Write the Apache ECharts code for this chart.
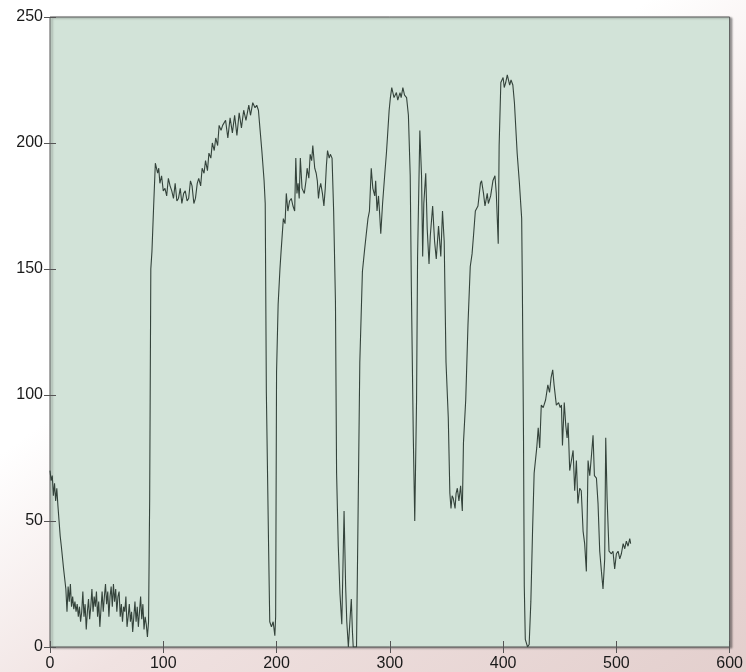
<!DOCTYPE html>
<html>
<head>
<meta charset="utf-8">
<script src="https://cdn.jsdelivr.net/npm/echarts@6/dist/echarts.min.js"></script>
<style>
html,body{margin:0;padding:0;}
body{width:746px;height:672px;background:linear-gradient(145deg,#ffffff 0%,#ffffff 38%,#f0e2e1 62%,#e3cfcd 100%);}
#chart{width:746px;height:672px;}
</style>
</head>
<body>
<div id="chart"></div>
<script>
const xTicks = [0, 100, 200, 300, 400, 500, 600];
const yTicks = [0, 50, 100, 150, 200, 250];
const xs = [0,1,2,3,4,5,6,7,8,9,10,12,14,15,16,17,18,19,20,21,22,23,24,25,26,27,28,29,30,31,32,33,34,35,36,37,38,39,40,41,42,43,44,45,46,47,48,49,50,51,52,53,54,55,56,57,58,59,60,61,62,63,64,65,66,67,68,69,70,71,72,73,74,75,76,77,78,79,80,81,82,83,84,85,86,87,88,89,90,91.5,93,
95,96,97,98.5,100,101.5,103,104.5,106,107.5,109,110.5,112,113.4,115,116.4,118,119.4,121,122.4,124,125.4,127,128.4,130,131.3,133,134.3,136,137.3,139,140.3,142,143.3,145,146.3,148,149.3,151,152.4,155,157,159,161,163,165,167,169,171,173,175.5,177,179,181,182.5,184,185.5,187,189,190,191,193,194,195.5,197,198.5,199.2,
200,201.4,203,204,206,207.5,208.6,210,211.5,213,214.5,216,217,218,219,220,221,222.5,224.5,226,227,228.5,229.7,231,232,233.7,235,236,237,238,239,240.5,241.8,243,244,245,246.5,247.5,249,250.4,252,253,254.5,256,257.6,259.6,261,262,263.4,265,266,267,267.7,270.6,272,273.5,275.8,277.8,279,280.7,282,283.6,285,286.7,287.5,288.7,290,291,292,293.6,295.6,297,298,299.4,
300.5,301.7,303.7,305.8,307,309,310,311.5,313,314.8,316.4,318,319,320.7,322,323.6,324.5,326.5,328,329,330,331.7,333,334.6,335.7,337.8,339.5,341,343,345,346.5,348,349.6,351.6,353,354,355,356,357.6,358.5,359.6,361,362.5,364,365,367,369,371,372.6,374,375.5,377.8,380,381,382.7,384,386,387,389,391,392.8,394,395.7,396.5,398,
400,401,402.3,403.7,405.8,407,408.6,410,412.4,414.4,416.4,417,418,418.7,419.6,421.6,423,424.5,426,427.4,429.7,431,432.3,433.7,435.4,437.5,439.5,441,442.4,443.8,445,447,449,450.4,451.5,452.4,454,455.3,456.5,457.4,458.8,460.3,461.8,463.2,464.7,466,467.6,469,470.6,472,473.5,475,476.5,478,479.4,480.6,482.4,483.8,485.3,486.8,488.2,489.7,490.6,491.8,493.5,495.6,497,498.5,
500,501.5,503,504.4,506,507.4,508.8,510.3,511.8,512.6];
const ys = [70,66,68,60,65,58,63,56,50,44,40,31,23,14,24,18,25,16,20,15,18,14,17,12,16,10,14,22,12,17,7,14,19,11,16,23,14,20,16,22,12,18,8,15,22,14,20,25,17,22,12,20,24,16,25,18,23,14,20,22,12,17,10,16,14,20,8,12,17,10,14,6,12,18,10,16,8,14,20,11,17,7,12,9,4,10,59,150,157,175,192,
188,190,184,187,181,182,179,186,183,181,178,184,177,178,182,176,180,181,177,178,185,183,176,178,184,186,183,190,188,193,189,196,194,200,197,202,199,207,205,207,209,202,210,204,211,203,212,206,213,209,215,211,216,214,215,213,205,197,185,176,101,39,10,8,10,4.5,12,
109,136,150,157,170,168,180,173,177,178,175,173,194,180,184,178,194,182,180,185,190,186,195.5,193,199,190,188,185,178,182,184,180,175,182,191,197,194,195.5,194,173,137,69,40,21,9,54,24,10,0,12,19,6,0,0,54,113,149,158,163,170,173,190,182,179,185,173,179,172,164,176,188,196,203,213,
218,222,218,220,217,220,218,222,219,218,211,187,143,84,50,98,155,205,187,155,176,188,166,152,163,175,161,154,167,155,173,161,113,91,61,55,60,59,55,61,63,58,64,54,81,98,128,151,156,164,173,175,184,185,180,175,180,176,179,185,187,180,160,199,224,
226,222,224,227,223,225,223,216,196,184,170,143,84,24,3,0,1,18,46,69,79,87,79,96,95,98,104,101,107,110,104,96,97,95,96,80,97,88,83,89,70,74,78,62,74,57,63,62,46,41,30,74,68,76,84,68,67,57,38,30,23,35,83,59,38,37,38,31,
37,38,35,37,41,39,42,40,43,41];

const data = xs.map((x, i) => [x, ys[i]]);
const chart = echarts.init(document.getElementById('chart'));
const lbl = {fontFamily: 'Liberation Sans, Arial, sans-serif', fontSize: 16, color: '#1a1a1a'};
chart.setOption({
  backgroundColor: 'transparent',
  animation: false,
  grid: {left: 50, top: 17, right: 15, bottom: 22, show: true, backgroundColor: '#d2e3d8', borderColor: '#555555', borderWidth: 1,
    shadowColor: 'rgba(0,0,0,0.35)', shadowOffsetX: 2, shadowOffsetY: 1, shadowBlur: 2},
  xAxis: [
    {type: 'value', min: xTicks[0], max: xTicks[xTicks.length-1], interval: 100, position: 'bottom',
     axisLine: {show: false}, splitLine: {show: false},
     axisTick: {inside: true, length: 6, lineStyle: {color: '#555'}},
     axisLabel: Object.assign({margin: 9, showMinLabel: true, showMaxLabel: true}, lbl)},
    {type: 'value', min: xTicks[0], max: xTicks[xTicks.length-1], interval: 100, position: 'top',
     axisLine: {show: false}, splitLine: {show: false},
     axisTick: {inside: true, length: 6, lineStyle: {color: '#555'}},
     axisLabel: {show: false}}
  ],
  yAxis: [
    {type: 'value', min: yTicks[0], max: yTicks[yTicks.length-1], interval: 50, position: 'left',
     axisLine: {show: false}, splitLine: {show: false},
     axisTick: {inside: true, length: 6, lineStyle: {color: '#555'}},
     axisLabel: Object.assign({margin: 7}, lbl)},
    {type: 'value', min: yTicks[0], max: yTicks[yTicks.length-1], interval: 50, position: 'right',
     axisLine: {show: false}, splitLine: {show: false},
     axisTick: {inside: true, length: 6, lineStyle: {color: '#555'}},
     axisLabel: {show: false}}
  ],
  series: [{
    type: 'line', data: data, showSymbol: false, symbol: 'none',
    lineStyle: {color: '#34433b', width: 1.1}
  }]
});
</script>
</body>
</html>
